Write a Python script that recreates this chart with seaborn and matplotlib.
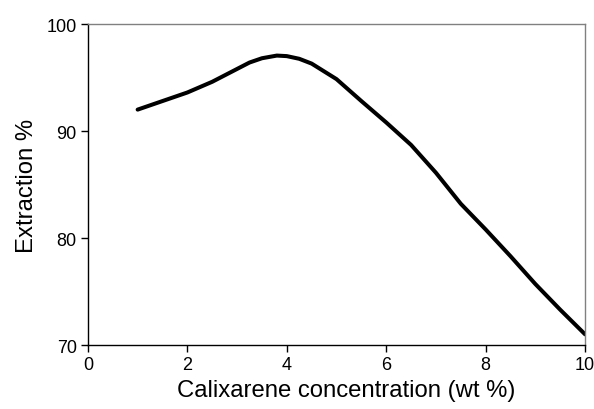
import matplotlib
matplotlib.use("Agg")
import matplotlib.pyplot as plt
import seaborn as sns
import pandas as pd

# Calixarene concentration (wt %) and extraction efficiency (%)
concentration = [1.0, 1.5, 2.0, 2.5, 3.0, 3.25, 3.5, 3.8, 4.0, 4.25, 4.5, 5.0,
                 5.5, 6.0, 6.5, 7.0, 7.5, 8.0, 8.5, 9.0, 9.5, 10.0]
extraction = [92.0, 92.8, 93.6, 94.6, 95.8, 96.4, 96.8, 97.05, 97.0, 96.75, 96.3, 94.85,
              92.8, 90.8, 88.7, 86.1, 83.2, 80.8, 78.3, 75.7, 73.3, 71.0]

x_ticks = [0, 2, 4, 6, 8, 10]
y_ticks = [70, 80, 90, 100]

df = pd.DataFrame({"conc": concentration, "ext": extraction})

sns.set_style("white")
plt.rcParams["font.family"] = ["Liberation Sans", "DejaVu Sans"]
plt.rcParams["text.color"] = "black"
plt.rcParams["axes.labelcolor"] = "black"
plt.rcParams["xtick.color"] = "black"
plt.rcParams["ytick.color"] = "black"

fig = plt.figure(figsize=(5.94, 4.10), dpi=100)
ax = fig.add_axes([0.148, 0.156, 0.837, 0.783])

sns.lineplot(data=df, x="conc", y="ext", ax=ax, color="black", linewidth=2.9)

ax.set_xlim(0, 10)
ax.set_ylim(70, 100)
ax.set_xticks(x_ticks)
ax.set_yticks(y_ticks)
ax.tick_params(axis="both", direction="out", length=5, width=1, color="black",
               labelcolor="black", labelsize=13, pad=3, bottom=True, left=True)

for side in ("left", "bottom"):
    ax.spines[side].set_color("black")
    ax.spines[side].set_linewidth(1.0)
for side in ("top", "right"):
    ax.spines[side].set_visible(True)
    ax.spines[side].set_color("#808080")
    ax.spines[side].set_linewidth(1.0)

ax.set_xlabel("Calixarene concentration (wt %)", fontsize=17.2)
ax.set_ylabel("Extraction %", fontsize=17.2)
ax.xaxis.set_label_coords(0.52, -0.105)
ax.yaxis.set_label_coords(-0.10, 0.5)

fig.savefig("out.png", dpi=100)
